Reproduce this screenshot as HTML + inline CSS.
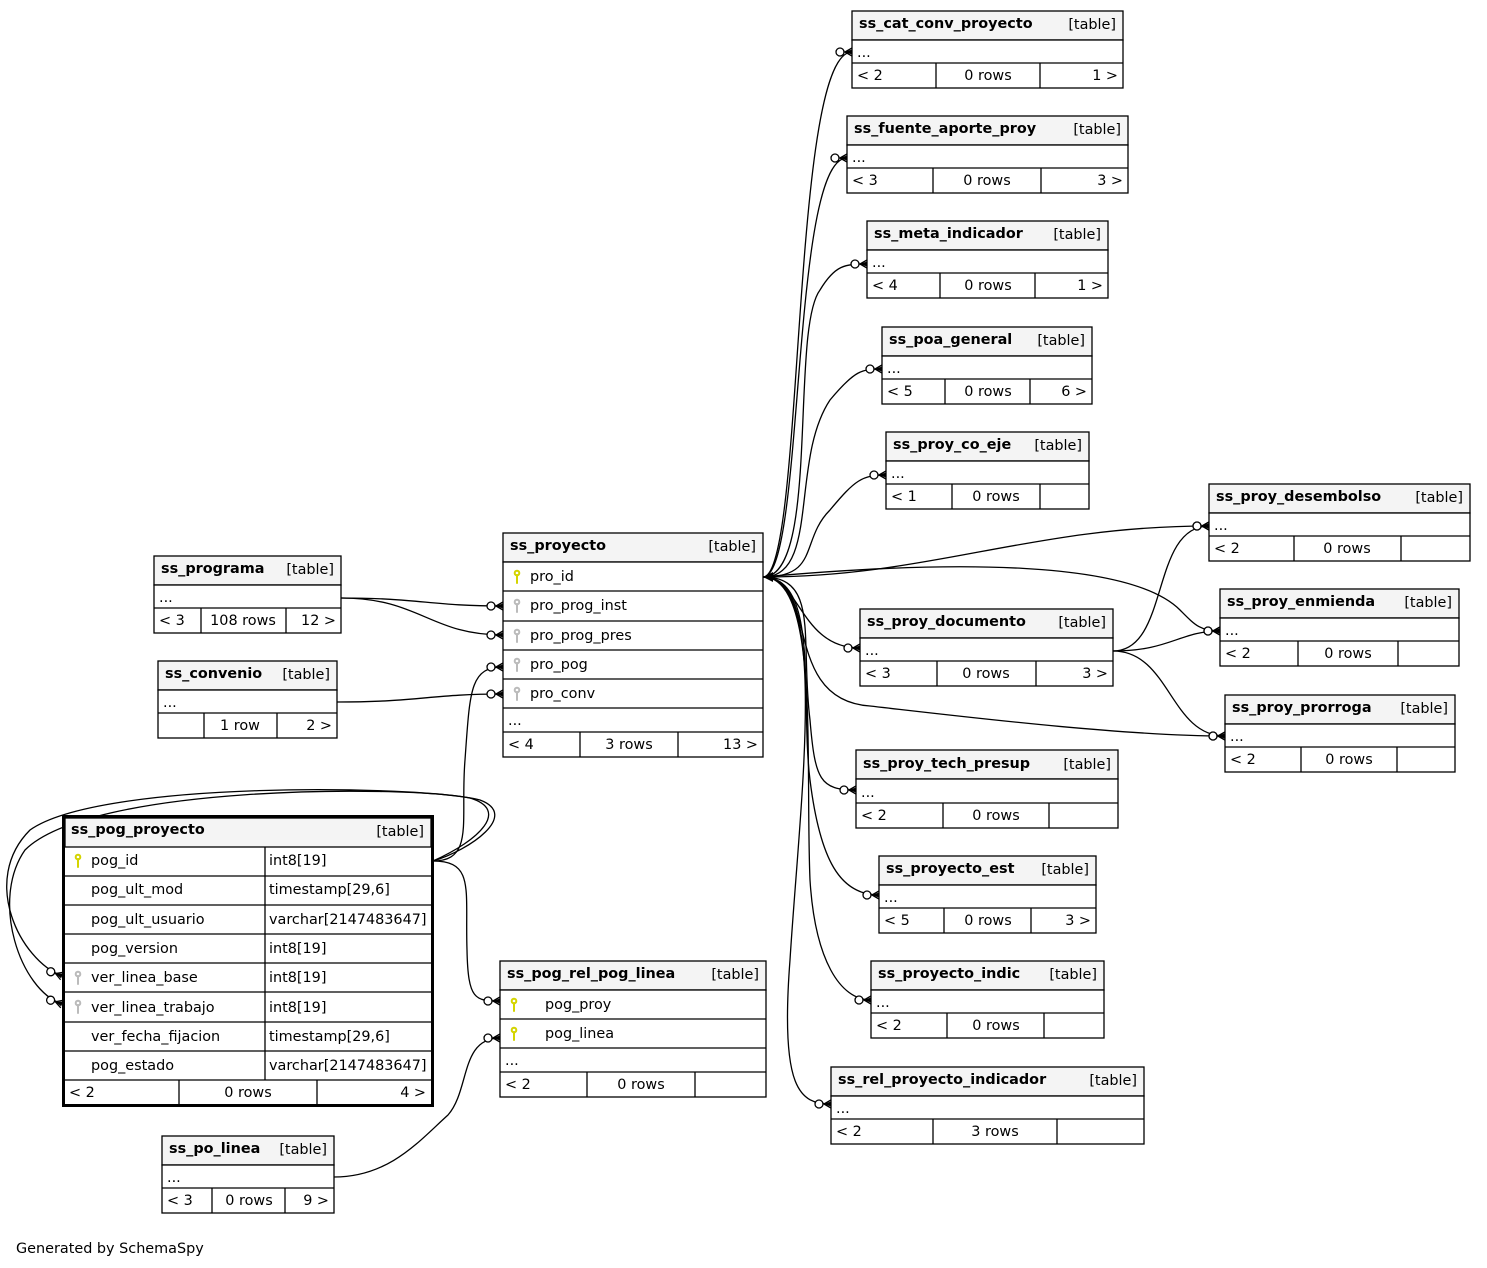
<!DOCTYPE html>
<html><head><meta charset="utf-8"><style>
html,body{margin:0;padding:0;background:#fff}
svg{display:block}
text{font-family:"DejaVu Sans","Liberation Sans",sans-serif;font-size:14.4px;fill:#000}
.b{font-weight:bold}
.e{text-anchor:end}.m{text-anchor:middle}
.hd{fill:#f4f4f4;stroke:#000;stroke-width:1.3}
.bx{fill:#fff;stroke:#000;stroke-width:1.3}
.ln{stroke:#000;stroke-width:1.3}
.ed{fill:none;stroke:#000;stroke-width:1.3}
</style></head><body>
<svg width="1487" height="1268" viewBox="0 0 1487 1268" xmlns="http://www.w3.org/2000/svg">
<defs>
<marker id="cf" markerWidth="22" markerHeight="14" refX="18" refY="7" orient="auto" markerUnits="userSpaceOnUse">
<path d="M4,7 L18,7 M11,7 L18,3 M11,7 L18,11" stroke="#000" stroke-width="1.3" fill="none"/>
<path d="M11,7 L18,4.5 L18,9.5 Z" fill="#000"/>
<circle cx="6" cy="7" r="4" fill="#fff" stroke="#000" stroke-width="1.3"/>
</marker>
</defs>

<g class="ed">
<path marker-end="url(#cf)" d="M763,577 C805,577 790,52 852,52"/>
<path marker-end="url(#cf)" d="M763,577 C805,577 790,158 847,158"/>
<path marker-end="url(#cf)" d="M763,577 C820,577 790,330 820,290 C835,265 845,264 867,264"/>
<path marker-end="url(#cf)" d="M763,577 C820,577 790,460 830,400 C855,370 862,369 882,369"/>
<path marker-end="url(#cf)" d="M763,577 C820,577 800,540 830,510 C855,480 862,475 886,475"/>
<path marker-end="url(#cf)" d="M763,577 C930,577 1030,526 1209,526"/>
<path marker-end="url(#cf)" d="M763,577 C950,560 1130,560 1180,610 C1195,625 1200,631 1220,631"/>
<path marker-end="url(#cf)" d="M763,577 C820,577 780,700 870,706 C950,715 1120,736 1225,736"/>
<path marker-end="url(#cf)" d="M763,577 C800,577 800,648 860,648"/>
<path marker-end="url(#cf)" d="M763,577 C820,577 800,640 810,720 C815,780 820,790 856,790"/>
<path marker-end="url(#cf)" d="M763,577 C820,577 800,700 810,780 C820,860 840,895 879,895"/>
<path marker-end="url(#cf)" d="M763,577 C820,577 805,760 810,880 C815,960 840,1000 871,1000"/>
<path marker-end="url(#cf)" d="M763,577 C830,577 800,800 790,960 C780,1090 800,1104 831,1104"/>
<path marker-end="url(#cf)" d="M1113,651 C1170,651 1150,526 1209,526"/>
<path marker-end="url(#cf)" d="M1113,651 C1170,651 1180,631 1220,631"/>
<path marker-end="url(#cf)" d="M1113,651 C1170,651 1170,736 1225,736"/>
<path marker-end="url(#cf)" d="M341,598 C420,598 430,606 503,606"/>
<path marker-end="url(#cf)" d="M341,598 C420,598 430,635 503,635"/>
<path marker-end="url(#cf)" d="M337,702 C420,702 430,694 503,694"/>
<path marker-end="url(#cf)" d="M433,861 C475,861 460,820 465,760 C470,690 470,667 503,667"/>
<path marker-end="url(#cf)" d="M433,861 C475,861 465,890 467,950 C468,1000 475,1001 500,1001"/>
<path marker-end="url(#cf)" d="M334,1177 C390,1177 420,1140 448,1115 C470,1090 460,1038 500,1038"/>
<path marker-end="url(#cf)" d="M433,861 C470,850 520,815 480,800 C420,785 100,780 30,830 C-20,880 20,960 62,976"/>
<path marker-end="url(#cf)" d="M433,861 C480,840 510,810 470,798 C400,785 90,785 25,850 C-10,900 20,990 62,1004"/>
</g>
<path d="M763,577 L773,572 L773,582 Z" fill="#000"/>

<g>
<rect class="hd" x="852" y="11" width="271" height="29"/><rect class="bx" x="852" y="40" width="271" height="48"/><line class="ln" x1="852" y1="63" x2="1123" y2="63"/><line class="ln" x1="936" y1="63" x2="936" y2="88"/><line class="ln" x1="1040" y1="63" x2="1040" y2="88"/>
<text class="b" x="859" y="28">ss_cat_conv_proyecto</text><text class="e" x="1116" y="29">[table]</text><text x="857" y="57">...</text><text x="857" y="80">&lt; 2</text><text class="m" x="988" y="80">0 rows</text><text class="e" x="1118" y="80">1 &gt;</text>

<rect class="hd" x="847" y="116" width="281" height="29"/><rect class="bx" x="847" y="145" width="281" height="48"/><line class="ln" x1="847" y1="168" x2="1128" y2="168"/><line class="ln" x1="933" y1="168" x2="933" y2="193"/><line class="ln" x1="1041" y1="168" x2="1041" y2="193"/>
<text class="b" x="854" y="133">ss_fuente_aporte_proy</text><text class="e" x="1121" y="134">[table]</text><text x="852" y="162">...</text><text x="852" y="185">&lt; 3</text><text class="m" x="987" y="185">0 rows</text><text class="e" x="1123" y="185">3 &gt;</text>

<rect class="hd" x="867" y="221" width="241" height="29"/><rect class="bx" x="867" y="250" width="241" height="48"/><line class="ln" x1="867" y1="273" x2="1108" y2="273"/><line class="ln" x1="940" y1="273" x2="940" y2="298"/><line class="ln" x1="1035" y1="273" x2="1035" y2="298"/>
<text class="b" x="874" y="238">ss_meta_indicador</text><text class="e" x="1101" y="239">[table]</text><text x="872" y="267">...</text><text x="872" y="290">&lt; 4</text><text class="m" x="988" y="290">0 rows</text><text class="e" x="1103" y="290">1 &gt;</text>

<rect class="hd" x="882" y="327" width="210" height="29"/><rect class="bx" x="882" y="356" width="210" height="48"/><line class="ln" x1="882" y1="379" x2="1092" y2="379"/><line class="ln" x1="945" y1="379" x2="945" y2="404"/><line class="ln" x1="1030" y1="379" x2="1030" y2="404"/>
<text class="b" x="889" y="344">ss_poa_general</text><text class="e" x="1085" y="345">[table]</text><text x="887" y="373">...</text><text x="887" y="396">&lt; 5</text><text class="m" x="988" y="396">0 rows</text><text class="e" x="1087" y="396">6 &gt;</text>

<rect class="hd" x="886" y="432" width="203" height="29"/><rect class="bx" x="886" y="461" width="203" height="48"/><line class="ln" x1="886" y1="484" x2="1089" y2="484"/><line class="ln" x1="952" y1="484" x2="952" y2="509"/><line class="ln" x1="1040" y1="484" x2="1040" y2="509"/>
<text class="b" x="893" y="449">ss_proy_co_eje</text><text class="e" x="1082" y="450">[table]</text><text x="891" y="478">...</text><text x="891" y="501">&lt; 1</text><text class="m" x="996" y="501">0 rows</text>

<rect class="hd" x="1209" y="484" width="261" height="29"/><rect class="bx" x="1209" y="513" width="261" height="48"/><line class="ln" x1="1209" y1="536" x2="1470" y2="536"/><line class="ln" x1="1294" y1="536" x2="1294" y2="561"/><line class="ln" x1="1401" y1="536" x2="1401" y2="561"/>
<text class="b" x="1216" y="501">ss_proy_desembolso</text><text class="e" x="1463" y="502">[table]</text><text x="1214" y="530">...</text><text x="1214" y="553">&lt; 2</text><text class="m" x="1347" y="553">0 rows</text>

<rect class="hd" x="1220" y="589" width="239" height="29"/><rect class="bx" x="1220" y="618" width="239" height="48"/><line class="ln" x1="1220" y1="641" x2="1459" y2="641"/><line class="ln" x1="1298" y1="641" x2="1298" y2="666"/><line class="ln" x1="1398" y1="641" x2="1398" y2="666"/>
<text class="b" x="1227" y="606">ss_proy_enmienda</text><text class="e" x="1452" y="607">[table]</text><text x="1225" y="635">...</text><text x="1225" y="658">&lt; 2</text><text class="m" x="1348" y="658">0 rows</text>

<rect class="hd" x="860" y="609" width="253" height="29"/><rect class="bx" x="860" y="638" width="253" height="48"/><line class="ln" x1="860" y1="661" x2="1113" y2="661"/><line class="ln" x1="937" y1="661" x2="937" y2="686"/><line class="ln" x1="1036" y1="661" x2="1036" y2="686"/>
<text class="b" x="867" y="626">ss_proy_documento</text><text class="e" x="1106" y="627">[table]</text><text x="865" y="655">...</text><text x="865" y="678">&lt; 3</text><text class="m" x="986" y="678">0 rows</text><text class="e" x="1108" y="678">3 &gt;</text>

<rect class="hd" x="1225" y="695" width="230" height="29"/><rect class="bx" x="1225" y="724" width="230" height="48"/><line class="ln" x1="1225" y1="747" x2="1455" y2="747"/><line class="ln" x1="1301" y1="747" x2="1301" y2="772"/><line class="ln" x1="1397" y1="747" x2="1397" y2="772"/>
<text class="b" x="1232" y="712">ss_proy_prorroga</text><text class="e" x="1448" y="713">[table]</text><text x="1230" y="741">...</text><text x="1230" y="764">&lt; 2</text><text class="m" x="1349" y="764">0 rows</text>

<rect class="hd" x="856" y="750" width="262" height="29"/><rect class="bx" x="856" y="779" width="262" height="49"/><line class="ln" x1="856" y1="803" x2="1118" y2="803"/><line class="ln" x1="943" y1="803" x2="943" y2="828"/><line class="ln" x1="1049" y1="803" x2="1049" y2="828"/>
<text class="b" x="863" y="768">ss_proy_tech_presup</text><text class="e" x="1111" y="769">[table]</text><text x="861" y="797">...</text><text x="861" y="820">&lt; 2</text><text class="m" x="996" y="820">0 rows</text>

<rect class="hd" x="879" y="856" width="217" height="29"/><rect class="bx" x="879" y="885" width="217" height="48"/><line class="ln" x1="879" y1="908" x2="1096" y2="908"/><line class="ln" x1="944" y1="908" x2="944" y2="933"/><line class="ln" x1="1031" y1="908" x2="1031" y2="933"/>
<text class="b" x="886" y="873">ss_proyecto_est</text><text class="e" x="1089" y="874">[table]</text><text x="884" y="902">...</text><text x="884" y="925">&lt; 5</text><text class="m" x="988" y="925">0 rows</text><text class="e" x="1091" y="925">3 &gt;</text>

<rect class="hd" x="871" y="961" width="233" height="29"/><rect class="bx" x="871" y="990" width="233" height="48"/><line class="ln" x1="871" y1="1013" x2="1104" y2="1013"/><line class="ln" x1="947" y1="1013" x2="947" y2="1038"/><line class="ln" x1="1044" y1="1013" x2="1044" y2="1038"/>
<text class="b" x="878" y="978">ss_proyecto_indic</text><text class="e" x="1097" y="979">[table]</text><text x="876" y="1007">...</text><text x="876" y="1030">&lt; 2</text><text class="m" x="996" y="1030">0 rows</text>

<rect class="hd" x="831" y="1067" width="313" height="29"/><rect class="bx" x="831" y="1096" width="313" height="48"/><line class="ln" x1="831" y1="1119" x2="1144" y2="1119"/><line class="ln" x1="933" y1="1119" x2="933" y2="1144"/><line class="ln" x1="1057" y1="1119" x2="1057" y2="1144"/>
<text class="b" x="838" y="1084">ss_rel_proyecto_indicador</text><text class="e" x="1137" y="1085">[table]</text><text x="836" y="1113">...</text><text x="836" y="1136">&lt; 2</text><text class="m" x="995" y="1136">3 rows</text>

<rect class="hd" x="154" y="556" width="187" height="29"/><rect class="bx" x="154" y="585" width="187" height="48"/><line class="ln" x1="154" y1="608" x2="341" y2="608"/><line class="ln" x1="201" y1="608" x2="201" y2="633"/><line class="ln" x1="286" y1="608" x2="286" y2="633"/>
<text class="b" x="161" y="573">ss_programa</text><text class="e" x="334" y="574">[table]</text><text x="159" y="602">...</text><text x="159" y="625">&lt; 3</text><text class="m" x="243" y="625">108 rows</text><text class="e" x="336" y="625">12 &gt;</text>

<rect class="hd" x="158" y="661" width="179" height="29"/><rect class="bx" x="158" y="690" width="179" height="48"/><line class="ln" x1="158" y1="713" x2="337" y2="713"/><line class="ln" x1="204" y1="713" x2="204" y2="738"/><line class="ln" x1="277" y1="713" x2="277" y2="738"/>
<text class="b" x="165" y="678">ss_convenio</text><text class="e" x="330" y="679">[table]</text><text x="163" y="707">...</text><text class="m" x="240" y="730">1 row</text><text class="e" x="332" y="730">2 &gt;</text>

<rect class="hd" x="162" y="1136" width="172" height="29"/><rect class="bx" x="162" y="1165" width="172" height="48"/><line class="ln" x1="162" y1="1188" x2="334" y2="1188"/><line class="ln" x1="212" y1="1188" x2="212" y2="1213"/><line class="ln" x1="285" y1="1188" x2="285" y2="1213"/>
<text class="b" x="169" y="1153">ss_po_linea</text><text class="e" x="327" y="1154">[table]</text><text x="167" y="1182">...</text><text x="167" y="1205">&lt; 3</text><text class="m" x="249" y="1205">0 rows</text><text class="e" x="329" y="1205">9 &gt;</text>
</g>

<g>
<rect class="hd" x="503" y="533" width="260" height="29"/><rect class="bx" x="503" y="562" width="260" height="195"/>
<line class="ln" x1="503" y1="591" x2="763" y2="591"/><line class="ln" x1="503" y1="621" x2="763" y2="621"/><line class="ln" x1="503" y1="650" x2="763" y2="650"/><line class="ln" x1="503" y1="679" x2="763" y2="679"/><line class="ln" x1="503" y1="708" x2="763" y2="708"/><line class="ln" x1="503" y1="732" x2="763" y2="732"/>
<line class="ln" x1="580" y1="732" x2="580" y2="757"/><line class="ln" x1="678" y1="732" x2="678" y2="757"/>
<text class="b" x="510" y="550">ss_proyecto</text><text class="e" x="756" y="551">[table]</text>
<text x="530" y="581">pro_id</text><text x="530" y="610">pro_prog_inst</text><text x="530" y="640">pro_prog_pres</text><text x="530" y="669">pro_pog</text><text x="530" y="698">pro_conv</text>
<text x="508" y="725">...</text><text x="508" y="749">&lt; 4</text><text class="m" x="629" y="749">3 rows</text><text class="e" x="758" y="749">13 &gt;</text>
<g stroke-width="2" stroke-linecap="round">
<circle cx="517" cy="573" r="2.3" fill="none" stroke="#d4d400"/><line x1="517" y1="575" x2="517" y2="583" stroke="#d4d400"/>
<circle cx="517" cy="602" r="2.3" fill="none" stroke="#bbb"/><line x1="517" y1="604" x2="517" y2="612" stroke="#bbb"/>
<circle cx="517" cy="632" r="2.3" fill="none" stroke="#bbb"/><line x1="517" y1="634" x2="517" y2="642" stroke="#bbb"/>
<circle cx="517" cy="661" r="2.3" fill="none" stroke="#bbb"/><line x1="517" y1="663" x2="517" y2="671" stroke="#bbb"/>
<circle cx="517" cy="690" r="2.3" fill="none" stroke="#bbb"/><line x1="517" y1="692" x2="517" y2="700" stroke="#bbb"/>
</g>
</g>

<g>
<rect class="hd" x="500" y="961" width="266" height="29"/><rect class="bx" x="500" y="990" width="266" height="107"/>
<line class="ln" x1="500" y1="1019" x2="766" y2="1019"/><line class="ln" x1="500" y1="1048" x2="766" y2="1048"/><line class="ln" x1="500" y1="1072" x2="766" y2="1072"/>
<line class="ln" x1="587" y1="1072" x2="587" y2="1097"/><line class="ln" x1="695" y1="1072" x2="695" y2="1097"/>
<text class="b" x="507" y="978">ss_pog_rel_pog_linea</text><text class="e" x="759" y="979">[table]</text>
<text x="545" y="1009">pog_proy</text><text x="545" y="1038">pog_linea</text><text x="505" y="1065">...</text>
<text x="505" y="1089">&lt; 2</text><text class="m" x="641" y="1089">0 rows</text>
<g stroke-width="2" stroke-linecap="round" stroke="#d4d400">
<circle cx="514" cy="1001" r="2.3" fill="none"/><line x1="514" y1="1003" x2="514" y2="1011"/>
<circle cx="514" cy="1030" r="2.3" fill="none"/><line x1="514" y1="1032" x2="514" y2="1040"/>
</g>
</g>

<g>
<rect x="63.5" y="816.5" width="369" height="289" fill="#fff" stroke="#000" stroke-width="3"/>
<rect x="65" y="818" width="366" height="29" fill="#f4f4f4" stroke="#000" stroke-width="1.3"/>
<line class="ln" x1="65" y1="876" x2="431" y2="876"/><line class="ln" x1="65" y1="905" x2="431" y2="905"/><line class="ln" x1="65" y1="934" x2="431" y2="934"/><line class="ln" x1="65" y1="963" x2="431" y2="963"/><line class="ln" x1="65" y1="992" x2="431" y2="992"/><line class="ln" x1="65" y1="1022" x2="431" y2="1022"/><line class="ln" x1="65" y1="1051" x2="431" y2="1051"/><line class="ln" x1="65" y1="1080" x2="431" y2="1080"/>
<line class="ln" x1="265" y1="847" x2="265" y2="1080"/>
<line class="ln" x1="179" y1="1080" x2="179" y2="1104"/><line class="ln" x1="317" y1="1080" x2="317" y2="1104"/>
<text class="b" x="71" y="834">ss_pog_proyecto</text><text class="e" x="424" y="836">[table]</text>
<text x="91" y="865">pog_id</text><text x="269" y="865">int8[19]</text>
<text x="91" y="894">pog_ult_mod</text><text x="269" y="894">timestamp[29,6]</text>
<text x="91" y="924">pog_ult_usuario</text><text x="269" y="924">varchar[2147483647]</text>
<text x="91" y="953">pog_version</text><text x="269" y="953">int8[19]</text>
<text x="91" y="982">ver_linea_base</text><text x="269" y="982">int8[19]</text>
<text x="91" y="1012">ver_linea_trabajo</text><text x="269" y="1012">int8[19]</text>
<text x="91" y="1041">ver_fecha_fijacion</text><text x="269" y="1041">timestamp[29,6]</text>
<text x="91" y="1070">pog_estado</text><text x="269" y="1070">varchar[2147483647]</text>
<text x="69" y="1097">&lt; 2</text><text class="m" x="248" y="1097">0 rows</text><text class="e" x="426" y="1097">4 &gt;</text>
<g stroke-width="2" stroke-linecap="round">
<circle cx="78" cy="857" r="2.3" fill="none" stroke="#d4d400"/><line x1="78" y1="859" x2="78" y2="867" stroke="#d4d400"/>
<circle cx="78" cy="974" r="2.3" fill="none" stroke="#bbb"/><line x1="78" y1="976" x2="78" y2="984" stroke="#bbb"/>
<circle cx="78" cy="1003" r="2.3" fill="none" stroke="#bbb"/><line x1="78" y1="1005" x2="78" y2="1013" stroke="#bbb"/>
</g>
</g>

<text x="16" y="1253">Generated by SchemaSpy</text>
</svg>
</body></html>
